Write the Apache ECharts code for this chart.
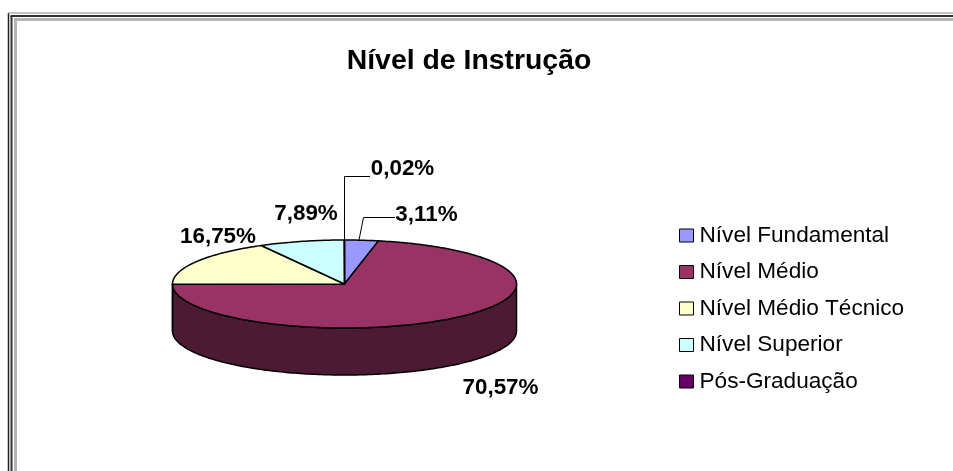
<!DOCTYPE html>
<html>
<head>
<meta charset="utf-8">
<title>Nível de Instrução</title>
<script src="https://cdn.jsdelivr.net/npm/echarts@6/dist/echarts.min.js"></script>
<style>
    html, body { margin: 0; padding: 0; background: #fff; }
    #main { width: 953px; height: 471px; }
</style>
</head>
<body>
<div id="main"></div>
<script>
const categories = ['Nível Fundamental', 'Nível Médio', 'Nível Médio Técnico', 'Nível Superior', 'Pós-Graduação'];
const percents = [3.11, 70.57, 16.75, 7.89, 0.02];
const colors = ['#9999FF', '#993366', '#FFFFCC', '#CCFFFF', '#660066'];
const sideColors = ['#4D4D80', '#4D1A33', '#808066', '#668080', '#330033'];

// pie ellipse, in pixels
const cx = 344.5, cy = 284, rx = 172, ry = 44, depth = 47;
const labelFont = { fontSize: 22.4, fontWeight: 'bold', fontFamily: '"Liberation Sans", Arial, sans-serif', fill: '#000' };

// label centre + leader line (excel labels were placed by hand)
const labelPos = [
    { x: 426.5, y: 214.5, leader: [[359, 240], [363.5, 217.5], [395, 217.5]] },
    { x: 500.5, y: 387.5 },
    { x: 218, y: 236.5 },
    { x: 306, y: 213.5 },
    { x: 402.5, y: 168.5, leader: [[344.5, 240], [344.5, 176.5], [370, 176.5]] }
];

const total = percents.reduce((a, b) => a + b, 0);

// angle is clockwise from 12 o'clock, in degrees
function pointAt(deg, dy) {
    const r = deg * Math.PI / 180;
    return [cx + rx * Math.sin(r), cy - ry * Math.cos(r) + (dy || 0)];
}

function arc(from, to, dy) {
    const pts = [];
    const n = Math.max(1, Math.ceil(Math.abs(to - from)));
    for (let i = 0; i <= n; i++) {
        pts.push(pointAt(from + (to - from) * i / n, dy));
    }
    return pts;
}

function renderSlice(idx) {
    return function (params, api) {
        const before = percents.slice(0, idx).reduce((a, b) => a + b, 0);
        const a0 = before / total * 360;
        const a1 = a0 + api.value(0) / total * 360;
        const children = [];

        // side wall is only seen on the front half
        const w0 = Math.max(a0, 90), w1 = Math.min(a1, 270);
        if (w1 > w0) {
            children.push({
                type: 'polygon',
                shape: { points: arc(w0, w1, 0).concat(arc(w1, w0, depth)) },
                style: { fill: sideColors[idx], stroke: '#000', lineWidth: 1.5, lineJoin: 'round' }
            });
        }
        children.push({
            type: 'polygon',
            shape: { points: [[cx, cy]].concat(arc(a0, a1, 0)) },
            style: { fill: colors[idx], stroke: '#000', lineWidth: 1.5, lineJoin: 'round' }
        });

        const lab = labelPos[idx];
        if (lab.leader) {
            children.push({
                type: 'polyline',
                shape: { points: lab.leader },
                style: { fill: null, stroke: '#000', lineWidth: 1 }
            });
        }
        children.push({
            type: 'text',
            z2: 10,
            style: Object.assign({
                x: lab.x, y: lab.y,
                text: api.value(0).toFixed(2).replace('.', ',') + '%',
                align: 'center', verticalAlign: 'middle'
            }, labelFont)
        });
        return { type: 'group', children: children };
    };
}

// old-style double frame, only top and left are inside the crop
function frameLine(x1, y1, x2, y2, color, width) {
    return { type: 'line', shape: { x1: x1, y1: y1, x2: x2, y2: y2 }, style: { stroke: color, lineWidth: width }, silent: true };
}
const frame = [
    frameLine(8.5, 13, 8.5, 471, '#222', 1.5),
    frameLine(8, 13, 953, 13, '#888', 1),
    frameLine(11.5, 16, 11.5, 471, '#333', 2),
    frameLine(10.5, 16, 953, 16, '#333', 2),
    frameLine(15.5, 19.5, 15.5, 471, '#b5b5b5', 3),
    frameLine(14, 19.5, 953, 19.5, '#b5b5b5', 3)
];

const chart = echarts.init(document.getElementById('main'));
chart.setOption({
    animation: false,
    backgroundColor: '#fff',
    title: {
        text: 'Nível de Instrução',
        left: 464,
        top: 42,
        textAlign: 'center',
        textStyle: { fontSize: 28.4, fontWeight: 'bold', color: '#000', fontFamily: '"Liberation Sans", Arial, sans-serif' }
    },
    legend: {
        orient: 'vertical',
        left: 674,
        top: 219,
        itemGap: 13.5,
        itemWidth: 14,
        itemHeight: 13,
        icon: 'rect',
        selectedMode: false,
        itemStyle: { borderColor: '#000', borderWidth: 1 },
        textStyle: { fontSize: 22.6, color: '#000', fontFamily: '"Liberation Sans", Arial, sans-serif', padding: [0, 0, 0, 1] },
        data: categories
    },
    graphic: frame,
    series: categories.map((name, i) => ({
        type: 'custom',
        name: name,
        coordinateSystem: 'none',
        itemStyle: { color: colors[i] },
        renderItem: renderSlice(i),
        data: [[percents[i]]]
    }))
});
</script>
</body>
</html>
